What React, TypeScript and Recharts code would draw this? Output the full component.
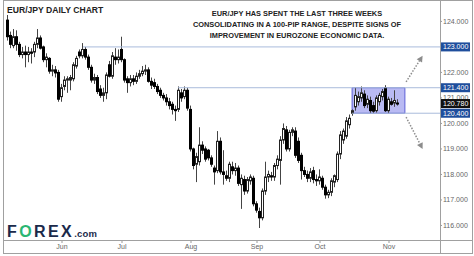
import React from "react";
import { ComposedChart, Bar, XAxis, YAxis, ReferenceLine, ReferenceArea } from "recharts";

// EUR/JPY daily candles, 8 May 2019 -> 6 Nov 2019
const START_DATE = "2019-05-08";

const OPEN = [
    124.05, 123.45, 123.05, 123.40, 123.10, 122.70, 122.80, 122.70, 122.80, 122.80,
    123.10, 123.35, 123.00, 122.50, 122.55, 122.05, 122.10, 122.00, 121.05, 121.45,
    121.70, 121.70, 121.75, 122.25, 122.80, 122.65, 122.90, 122.60, 122.20, 121.70,
    121.80, 121.35, 121.10, 121.20, 122.30, 121.85, 122.60, 122.50, 122.90, 122.50,
    121.75, 121.60, 121.75, 121.65, 121.85, 121.95, 122.05, 122.10, 121.65, 121.60,
    121.45, 121.30, 121.10, 121.00, 120.85, 120.75, 120.55, 120.55, 121.20, 121.05,
    121.30, 120.55, 119.00, 118.40, 118.50, 119.15, 119.00, 118.95, 118.65, 118.25,
    118.15, 119.30, 118.10, 117.95, 117.85, 118.30, 118.15, 118.25, 117.60, 117.80,
    117.35, 117.75, 117.85, 116.85, 116.55, 116.30, 117.35, 117.90, 117.95, 117.90,
    118.35, 118.55, 119.35, 119.75, 119.00, 119.65, 119.70, 119.30, 118.75, 118.15,
    118.00, 117.85, 118.15, 117.80, 117.75, 117.85, 117.50, 117.20, 117.30, 117.70,
    117.80, 118.80, 119.35, 119.50, 119.95, 120.40, 120.65, 120.85, 121.00, 121.15,
    120.75, 120.90, 120.70, 120.50, 120.85, 121.05, 121.40, 120.50, 120.85, 120.80,
    120.80,
];
const HIGH = [
    124.25, 123.60, 123.70, 123.65, 123.20, 123.00, 123.05, 123.00, 122.95, 123.20,
    123.70, 123.45, 123.05, 122.75, 122.60, 122.30, 122.25, 122.10, 121.55, 121.85,
    121.85, 121.90, 122.40, 122.65, 122.90, 123.15, 123.00, 122.70, 122.30, 121.95,
    121.90, 121.50, 121.40, 122.00, 122.45, 122.80, 122.95, 122.90, 123.40, 122.55,
    121.85, 121.90, 121.90, 122.00, 122.10, 122.25, 122.30, 122.20, 121.80, 121.75,
    121.55, 121.40, 121.20, 121.15, 121.00, 120.85, 120.70, 121.45, 121.35, 121.45,
    121.40, 120.70, 119.05, 118.85, 119.85, 119.30, 119.10, 119.00, 118.75, 118.35,
    119.70, 119.45, 118.95, 118.15, 118.50, 118.50, 118.45, 118.35, 118.00, 117.95,
    117.90, 118.00, 117.95, 116.95, 116.70, 117.45, 118.50, 118.15, 118.10, 118.45,
    118.75, 119.50, 120.00, 119.90, 119.75, 119.85, 119.85, 119.45, 118.85, 118.30,
    118.15, 118.25, 118.30, 118.00, 118.20, 117.95, 117.60, 117.40, 117.85, 118.00,
    118.90, 119.70, 119.80, 120.25, 120.35, 120.55, 121.40, 121.25, 121.45, 121.30,
    121.10, 121.05, 120.85, 121.10, 121.20, 121.35, 121.50, 121.05, 121.00, 121.30,
    120.95,
];
const LOW = [
    123.25, 122.95, 122.95, 122.85, 122.60, 122.55, 122.20, 122.40, 122.35, 122.60,
    122.95, 122.90, 122.40, 122.20, 121.95, 121.85, 121.80, 120.85, 120.85, 121.30,
    121.20, 121.30, 121.65, 122.15, 122.55, 122.55, 122.50, 122.10, 121.60, 121.55,
    121.15, 121.00, 120.85, 120.95, 121.80, 121.75, 122.30, 122.35, 122.40, 121.60,
    121.20, 121.45, 121.50, 121.55, 121.75, 121.85, 121.90, 121.60, 121.35, 121.35,
    121.15, 121.00, 120.90, 120.70, 120.55, 120.35, 120.10, 120.45, 120.85, 120.95,
    120.50, 118.90, 118.20, 117.70, 118.35, 118.80, 118.50, 118.55, 118.30, 117.60,
    118.05, 118.00, 117.60, 117.75, 117.70, 118.00, 117.95, 117.55, 116.65, 117.20,
    117.25, 117.60, 116.75, 116.50, 115.90, 116.20, 117.20, 117.70, 117.75, 117.75,
    118.20, 117.60, 119.20, 118.90, 118.90, 119.50, 118.65, 118.45, 117.80, 117.90,
    117.70, 117.70, 117.65, 117.55, 117.60, 117.40, 117.05, 117.07, 117.15, 117.50,
    117.70, 118.60, 119.20, 119.40, 119.80, 120.30, 120.50, 120.70, 120.85, 120.60,
    120.60, 120.40, 120.40, 120.42, 120.70, 120.90, 120.45, 120.40, 120.70, 120.65,
    120.70,
];
const CLOSE = [
    123.40, 123.10, 123.40, 123.10, 122.70, 122.80, 122.70, 122.80, 122.75, 123.10,
    123.35, 122.95, 122.50, 122.60, 122.05, 122.10, 121.98, 120.95, 121.40, 121.70,
    121.75, 121.80, 122.30, 122.55, 122.65, 122.90, 122.60, 122.20, 121.70, 121.80,
    121.25, 121.10, 121.20, 121.90, 121.85, 122.65, 122.50, 122.60, 122.50, 121.70,
    121.60, 121.75, 121.65, 121.85, 121.95, 122.05, 122.10, 121.65, 121.50, 121.45,
    121.25, 121.10, 121.00, 120.85, 120.70, 120.55, 120.50, 121.30, 121.00, 121.30,
    120.60, 119.00, 118.35, 118.70, 119.15, 118.95, 118.60, 118.65, 118.40, 118.10,
    119.30, 118.10, 118.00, 117.85, 118.40, 118.15, 118.25, 117.65, 117.85, 117.35,
    117.80, 117.90, 116.85, 116.60, 116.30, 117.35, 117.90, 118.00, 117.90, 118.35,
    118.60, 119.35, 119.80, 119.00, 119.65, 119.75, 118.75, 118.55, 118.15, 118.00,
    117.85, 118.10, 117.80, 117.75, 117.90, 117.50, 117.20, 117.30, 117.75, 117.95,
    118.80, 119.55, 119.70, 120.10, 120.20, 120.50, 121.10, 121.05, 121.20, 120.70,
    120.95, 120.50, 120.48, 121.00, 121.10, 121.25, 120.50, 120.95, 120.75, 120.90,
    120.78,
];

const PRICE_TICKS = [116, 117, 118, 119, 120, 121, 122, 123, 124];
const LEVELS = [123.0, 121.4, 120.4];
const MONTHS = ["Jan", "Feb", "Mar", "Apr", "May", "Jun", "Jul", "Aug", "Sep", "Oct", "Nov", "Dec"];

const TITLE = "EUR/JPY DAILY CHART";
const SUBTITLE = [
    "EUR/JPY HAS SPENT THE LAST THREE WEEKS",
    "CONSOLIDATING IN A 100-PIP RANGE, DESPITE SIGNS OF",
    "IMPROVEMENT IN EUROZONE ECONOMIC DATA.",
];

function tradingDays(start: string, n: number) {
    const out: Date[] = [];
    const d = new Date(start + "T00:00:00Z");
    while (out.length < n) {
        const wd = d.getUTCDay();
        if (wd !== 0 && wd !== 6) out.push(new Date(d));
        d.setUTCDate(d.getUTCDate() + 1);
    }
    return out;
}

const DATES = tradingDays(START_DATE, CLOSE.length);
const LAST = CLOSE[CLOSE.length - 1];

const data = CLOSE.map((c, i) => ({
    i,
    open: OPEN[i],
    high: HIGH[i],
    low: LOW[i],
    close: c,
    range: [LOW[i], HIGH[i]],
}));

// first trading day of each month
const monthTicks = DATES.map((d, i) => i).filter(i => i > 0 && DATES[i].getUTCMonth() !== DATES[i - 1].getUTCMonth());

const FONT = "'Liberation Sans', Arial, sans-serif";
const BLUE = "#1f4e9c";

const Candle = (props: any) => {
    const { x, y, width, height, payload } = props;
    if (x == null || y == null) return null;
    const top = Math.min(y, y + height);
    const h = Math.abs(height);
    const k = h / (payload.high - payload.low || 1);
    const yo = top + (payload.high - payload.open) * k;
    const yc = top + (payload.high - payload.close) * k;
    const px = Math.floor(x + width / 2);
    const up = payload.close >= payload.open;
    const bt = Math.min(yo, yc);
    const bh = Math.max(Math.abs(yo - yc), 1);
    return (
        <g>
            <line x1={px + 0.5} x2={px + 0.5} y1={top} y2={top + h} stroke="#444" strokeWidth={1} />
            {up ? (
                <rect x={px - 0.5} y={bt} width={2} height={bh} fill="#fff" stroke="#222" strokeWidth={1} />
            ) : (
                <rect x={px - 1} y={bt - 0.5} width={3} height={bh + 1} fill="#000" />
            )}
        </g>
    );
};

const YTick = (props: any) => {
    const { x, y, payload } = props;
    const v = payload.value;
    const isLevel = LEVELS.includes(v);
    const isLast = v === LAST;
    if (isLevel || isLast) {
        return (
            <g>
                <rect x={x - 2} y={y - 4.5} width={29} height={9} fill={isLast ? "#111" : BLUE} />
                <text x={x} y={y + 2.5} fontSize={7} fill="#fff" fontFamily={FONT}>{v.toFixed(3)}</text>
            </g>
        );
    }
    return (
        <text x={x} y={y + 2.5} fontSize={7} fill="#666" fontFamily={FONT}>{v.toFixed(3)}</text>
    );
};

const Arrow = (props: any) => {
    const { x1, y1, x2, y2 } = props;
    const a = Math.atan2(y2 - y1, x2 - x1);
    const L = 6, W = 3.2;
    const bx = x2 - L * Math.cos(a), by = y2 - L * Math.sin(a);
    const nx = -Math.sin(a) * W, ny = Math.cos(a) * W;
    return (
        <g>
            <line x1={x1} y1={y1} x2={bx} y2={by} stroke="#8c8c8c" strokeWidth={1.5} strokeDasharray="1.5 1.5" />
            <polygon points={`${x2},${y2} ${bx + nx},${by + ny} ${bx - nx},${by - ny}`} fill="#8c8c8c" />
        </g>
    );
};

export default function App() {
    const yTicks = [...PRICE_TICKS.filter(t => !LEVELS.includes(t)), ...LEVELS, LAST];
    return (
        <div style={{ position: "fixed", left: 0, top: 0, width: 474, height: 256, background: "#fff" }}>
            <ComposedChart width={474} height={256} data={data} margin={{ top: 1, right: 2, bottom: 3, left: 3 }}>
                <XAxis
                    dataKey="i"
                    type="number"
                    domain={[-1.667, 144]}
                    allowDataOverflow
                    ticks={monthTicks}
                    interval={0}
                    tickFormatter={(v: number) => MONTHS[DATES[v].getUTCMonth()]}
                    height={13}
                    tickSize={3}
                    tickMargin={1}
                    axisLine={false}
                    tickLine={{ stroke: "#999" }}
                    tick={{ fontSize: 7, fill: "#666", fontFamily: FONT }}
                />
                <YAxis
                    orientation="right"
                    type="number"
                    domain={[115.43, 124.8]}
                    allowDataOverflow
                    ticks={yTicks}
                    interval={0}
                    width={32}
                    tickSize={2}
                    tickMargin={1}
                    axisLine={false}
                    tickLine={{ stroke: "#999" }}
                    tick={<YTick />}
                />
                <ReferenceArea x1={114.7} x2={132.3} y1={120.4} y2={121.4} fill="#a7a9f0" fillOpacity={0.8} stroke="#5c5fd6" strokeWidth={1} />
                <ReferenceLine segment={[{ x: 25, y: 123 }, { x: 144, y: 123 }]} stroke="#a9bbdc" strokeWidth={1} />
                <ReferenceLine segment={[{ x: 56.7, y: 121.4 }, { x: 144, y: 121.4 }]} stroke="#a9bbdc" strokeWidth={1} />
                <ReferenceLine segment={[{ x: 114.7, y: 120.4 }, { x: 144, y: 120.4 }]} stroke="#a9bbdc" strokeWidth={1} />
                <Bar dataKey="range" barSize={3} shape={Candle} isAnimationActive={false} />
                <ReferenceLine segment={[{ x: 132.7, y: 121.63 }, { x: 138.2, y: 122.65 }]} shape={Arrow} />
                <ReferenceLine segment={[{ x: 132.7, y: 120.25 }, { x: 138.2, y: 119.0 }]} shape={Arrow} />
            </ComposedChart>
            <svg width={474} height={256} style={{ position: "absolute", left: 0, top: 0, pointerEvents: "none" }}>
                <rect x={3.5} y={0.5} width={469} height={253} fill="none" stroke="#a0a0a0" />
                <line x1={3.5} x2={472.5} y1={240.5} y2={240.5} stroke="#a0a0a0" />
                <line x1={440.5} x2={440.5} y1={0.5} y2={253.5} stroke="#a0a0a0" />
                <text x={7} y={12.5} fontSize={8.6} fontWeight="bold" fill="#222" fontFamily={FONT}>{TITLE}</text>
                {SUBTITLE.map((s, k) => (
                    <text key={k} x={297} y={16 + k * 11.2} fontSize={7.4} fontWeight="bold" fill="#222" textAnchor="middle" fontFamily={FONT}>{s}</text>
                ))}
                <text x={7} y={237} fontSize={16} fontWeight={900} fontFamily={FONT} letterSpacing={2.4}>
                    <tspan fill="#1b2a4a">F</tspan>
                    <tspan fill="#2bb673">O</tspan>
                    <tspan fill="#1b2a4a">REX</tspan>
                    <tspan fill="#1b2a4a" fontSize={9.5} letterSpacing={0.2}>.com</tspan>
                </text>
            </svg>
        </div>
    );
}
